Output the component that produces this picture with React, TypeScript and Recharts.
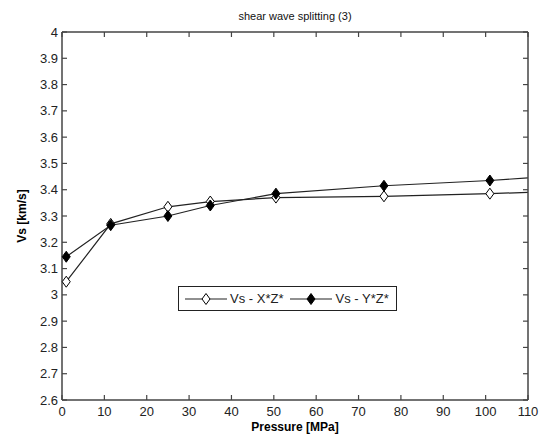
import React from "react";
import {
  LineChart, Line, XAxis, YAxis, Legend, Label,
} from "recharts";

const PRESSURE = [1, 11.5, 25, 35, 50.5, 76, 101, 110];
const VS_XZ = [3.05, 3.27, 3.335, 3.355, 3.37, 3.375, 3.385, 3.39];
const VS_YZ = [3.145, 3.265, 3.3, 3.34, 3.385, 3.415, 3.435, 3.445];

const X_TICKS = [0, 10, 20, 30, 40, 50, 60, 70, 80, 90, 100, 110];
const Y_TICKS = [2.6, 2.7, 2.8, 2.9, 3, 3.1, 3.2, 3.3, 3.4, 3.5, 3.6, 3.7, 3.8, 3.9, 4];

const SERIES_NAMES = ["Vs - X*Z*", "Vs - Y*Z*"];

const data = PRESSURE.map((p, i) => ({ p, xz: VS_XZ[i], yz: VS_YZ[i] }));

const FONT = "'Liberation Sans', Arial, sans-serif";
const INK = "#222";
const AXIS = "#444";
const TICK_LEN = 5;

function fmt(v: number) {
  return String(Number(v.toFixed(1)));
}

function BottomTick({ x, y, payload }: any) {
  return (
    <g>
      <line x1={x} x2={x} y1={y} y2={y - TICK_LEN} stroke={AXIS} strokeWidth={1.2} />
      <text x={x} y={y + 16} textAnchor="middle" fontSize={13} fill={INK} fontFamily={FONT}>
        {fmt(payload.value)}
      </text>
    </g>
  );
}

function TopTick({ x, y }: any) {
  return <line x1={x} x2={x} y1={y} y2={y + TICK_LEN} stroke={AXIS} strokeWidth={1.2} />;
}

function LeftTick({ x, y, payload }: any) {
  return (
    <g>
      <line x1={x} x2={x + TICK_LEN} y1={y} y2={y} stroke={AXIS} strokeWidth={1.2} />
      <text x={x - 4} y={y + 4.5} textAnchor="end" fontSize={13} fill={INK} fontFamily={FONT}>
        {fmt(payload.value)}
      </text>
    </g>
  );
}

function RightTick({ x, y }: any) {
  return <line x1={x} x2={x - TICK_LEN} y1={y} y2={y} stroke={AXIS} strokeWidth={1.2} />;
}

function Diamond({ cx, cy, filled }: { cx: number; cy: number; filled: boolean }) {
  const w = 4, h = 5.5;
  return (
    <polygon
      points={`${cx},${cy - h} ${cx + w},${cy} ${cx},${cy + h} ${cx - w},${cy}`}
      fill={filled ? "#000" : "#fff"}
      stroke="#000"
      strokeWidth={1}
    />
  );
}

function makeDot(filled: boolean) {
  return (props: any) => {
    const { cx, cy, index } = props;
    if (index === PRESSURE.length - 1) return <g key={`d-${index}`} />;
    return (
      <g key={`d-${index}`}>
        <Diamond cx={cx} cy={cy} filled={filled} />
      </g>
    );
  };
}

function LegendBox() {
  const item = (name: string, filled: boolean) => (
    <div style={{ display: "flex", alignItems: "center", marginRight: 5 }}>
      <svg width={46} height={14}>
        <line x1={2} x2={44} y1={7} y2={7} stroke={INK} strokeWidth={1.2} />
        <Diamond cx={23} cy={7} filled={filled} />
      </svg>
      <span style={{ fontSize: 13, color: INK, fontFamily: FONT, marginLeft: 1 }}>{name}</span>
    </div>
  );
  return (
    <div
      style={{
        display: "flex",
        alignItems: "center",
        border: `1px solid ${INK}`,
        background: "#fff",
        height: 25,
        padding: "0 2px 0 4px",
        boxSizing: "border-box",
      }}
    >
      {item(SERIES_NAMES[0], false)}
      {item(SERIES_NAMES[1], true)}
    </div>
  );
}

export default function App() {
  return (
    <div style={{ position: "absolute", left: 0, top: 0, width: 547, height: 443, background: "#fff" }}>
      <LineChart
        width={547}
        height={443}
        data={data}
        margin={{ top: 31, right: 18, bottom: 0, left: 0 }}
      >
        <XAxis
          dataKey="p"
          type="number"
          domain={[0, 110]}
          ticks={X_TICKS}
          height={43}
          stroke={AXIS}
          strokeWidth={1.5}
          tickLine={false}
          tickSize={0}
          tickMargin={0}
          tick={<BottomTick />}
          interval={0}
        >
          <Label
            value="Pressure [MPa]"
            position="insideBottom"
            offset={12}
            style={{ fontSize: 12, fontWeight: "bold", fill: "#000", fontFamily: FONT }}
          />
        </XAxis>
        <XAxis
          xAxisId="top"
          dataKey="p"
          type="number"
          orientation="top"
          domain={[0, 110]}
          ticks={X_TICKS}
          height={1}
          stroke={AXIS}
          strokeWidth={1.5}
          tickLine={false}
          tickSize={0}
          tickMargin={0}
          tick={<TopTick />}
          interval={0}
        >
          <Label
            value="shear wave splitting (3)"
            position="top"
            offset={11}
            style={{ fontSize: 11, fill: "#111", fontFamily: FONT }}
          />
        </XAxis>
        <YAxis
          type="number"
          domain={[2.6, 4]}
          ticks={Y_TICKS}
          width={62}
          stroke={AXIS}
          strokeWidth={1.5}
          tickLine={false}
          tickSize={0}
          tickMargin={0}
          tick={<LeftTick />}
          interval={0}
        >
          <Label
            content={(props: any) => {
              const vb = props.viewBox || {};
              const cy = (vb.y || 0) + (vb.height || 0) / 2;
              const cx = 22;
              return (
                <text
                  x={cx}
                  y={cy}
                  transform={`rotate(-90 ${cx} ${cy})`}
                  textAnchor="middle"
                  dominantBaseline="central"
                  fontSize={12}
                  fontWeight="bold"
                  fill="#000"
                  fontFamily={FONT}
                >
                  Vs [km/s]
                </text>
              );
            }}
          />
        </YAxis>
        <YAxis
          yAxisId="right"
          type="number"
          orientation="right"
          domain={[2.6, 4]}
          ticks={Y_TICKS}
          width={1}
          stroke={AXIS}
          strokeWidth={1.5}
          tickLine={false}
          tickSize={0}
          tickMargin={0}
          tick={<RightTick />}
          interval={0}
        />
        <Legend
          layout="horizontal"
          verticalAlign="middle"
          align="center"
          content={() => <LegendBox />}
          wrapperStyle={{ left: 178, top: 286, bottom: "auto", right: "auto", width: "auto", height: "auto" }}
        />
        <Line
          dataKey="xz"
          name={SERIES_NAMES[0]}
          stroke={INK}
          strokeWidth={1.2}
          dot={makeDot(false)}
          activeDot={false}
          isAnimationActive={false}
        />
        <Line
          dataKey="yz"
          xAxisId="top"
          yAxisId="right"
          name={SERIES_NAMES[1]}
          stroke={INK}
          strokeWidth={1.2}
          dot={makeDot(true)}
          activeDot={false}
          isAnimationActive={false}
        />
      </LineChart>
    </div>
  );
}
